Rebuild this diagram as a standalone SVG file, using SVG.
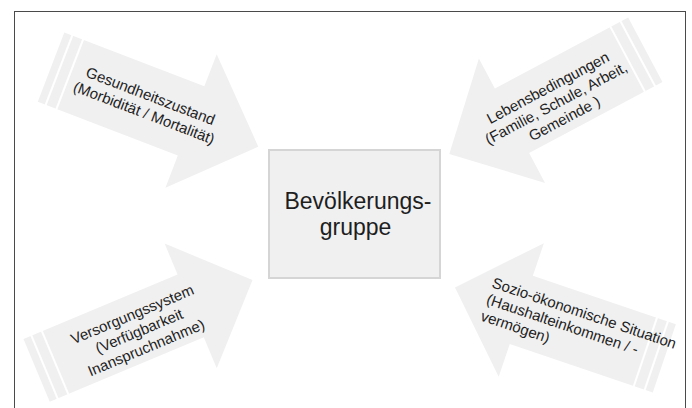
<svg xmlns="http://www.w3.org/2000/svg" width="692" height="408" viewBox="0 0 692 408">
  <style>
    .frame { fill: #ffffff; stroke: #4a4a4a; stroke-width: 1; }
    .arrow { fill: #f0f0f0; stroke: none; }
    .stripe { stroke: #ffffff; stroke-width: 2; }
    .lbl { font-family: "Liberation Sans", Arial, sans-serif; font-size: 15px; fill: #1e1e1e; }
    .mid { text-anchor: middle; }
    .box { fill: #f0f0f0; stroke: #d5d5d5; stroke-width: 2; }
    .boxlbl { font-family: "Liberation Sans", Arial, sans-serif; font-size: 23px; fill: #1e1e1e; text-anchor: middle; }
  </style>
  <rect width="692" height="408" fill="#ffffff"/>
  <rect class="frame" x="14.5" y="11.5" width="671" height="410"/>

  <g id="arrow-gesundheit">
    <g transform="translate(258.3,146.7) rotate(21)">
      <polygon class="arrow" points="0,0 -72,-71.5 -72,-37 -222,-37 -222,37 -72,37 -72,71.5"/>
      <line class="stripe" x1="-213.5" y1="-38" x2="-213.5" y2="38"/>
      <line class="stripe" x1="-202" y1="-38" x2="-202" y2="38"/>
    </g>
    <g transform="translate(147.2,104.5) rotate(21)">
      <text class="lbl mid" x="0" y="-4">Gesundheitszustand</text>
      <text class="lbl mid" x="0" y="14">(Morbidität / Mortalität)</text>
    </g>
  </g>

  <g id="arrow-lebensbedingungen">
    <g transform="translate(449.3,154) rotate(152)">
      <polygon class="arrow" points="0,0 -71,-70.5 -71,-36.5 -222,-36.5 -222,36.5 -71,36.5 -71,70.5"/>
      <line class="stripe" x1="-213.5" y1="-38" x2="-213.5" y2="38"/>
      <line class="stripe" x1="-202" y1="-38" x2="-202" y2="38"/>
    </g>
    <g transform="translate(556.2,103.3) rotate(-28)">
      <text class="lbl mid" x="0" y="-12.5">Lebensbedingungen</text>
      <text class="lbl mid" x="0" y="5">(Familie, Schule, Arbeit,</text>
      <text class="lbl mid" x="0" y="22.5">Gemeinde )</text>
    </g>
  </g>

  <g id="arrow-versorgung">
    <g transform="translate(252.5,280) rotate(-22.7)">
      <polygon class="arrow" points="0,0 -67,-67.5 -67,-34 -234,-34 -234,34 -67,34 -67,67.5"/>
      <line class="stripe" x1="-225.5" y1="-35" x2="-225.5" y2="35"/>
      <line class="stripe" x1="-214" y1="-35" x2="-214" y2="35"/>
    </g>
    <g transform="translate(139.2,331.2) rotate(-22.7)">
      <text class="lbl mid" x="0" y="-13">Versorgungssystem</text>
      <text class="lbl mid" x="0" y="5">(Verfügbarkeit</text>
      <text class="lbl mid" x="0" y="23">Inanspruchnahme)</text>
    </g>
  </g>

  <g id="arrow-sozio">
    <g transform="translate(455,287.5) rotate(198.7)">
      <polygon class="arrow" points="0,0 -70,-70.5 -70,-36 -221,-36 -221,36 -70,36 -70,70.5"/>
      <line class="stripe" x1="-212.5" y1="-37" x2="-212.5" y2="37"/>
      <line class="stripe" x1="-201" y1="-37" x2="-201" y2="37"/>
    </g>
    <g transform="translate(491,287) rotate(18.7)">
      <text class="lbl" x="0" y="0">Sozio-ökonomische Situation</text>
      <text class="lbl" x="0" y="17.5">(Haushalteinkommen / -</text>
      <text class="lbl" x="0" y="35">vermögen)</text>
    </g>
  </g>

  <g id="bevoelkerungsgruppe">
    <rect class="box" x="269" y="150" width="171" height="128"/>
    <text class="boxlbl" x="358" y="209">Bevölkerungs-</text>
    <text class="boxlbl" x="355.5" y="234.5">gruppe</text>
  </g>
</svg>
